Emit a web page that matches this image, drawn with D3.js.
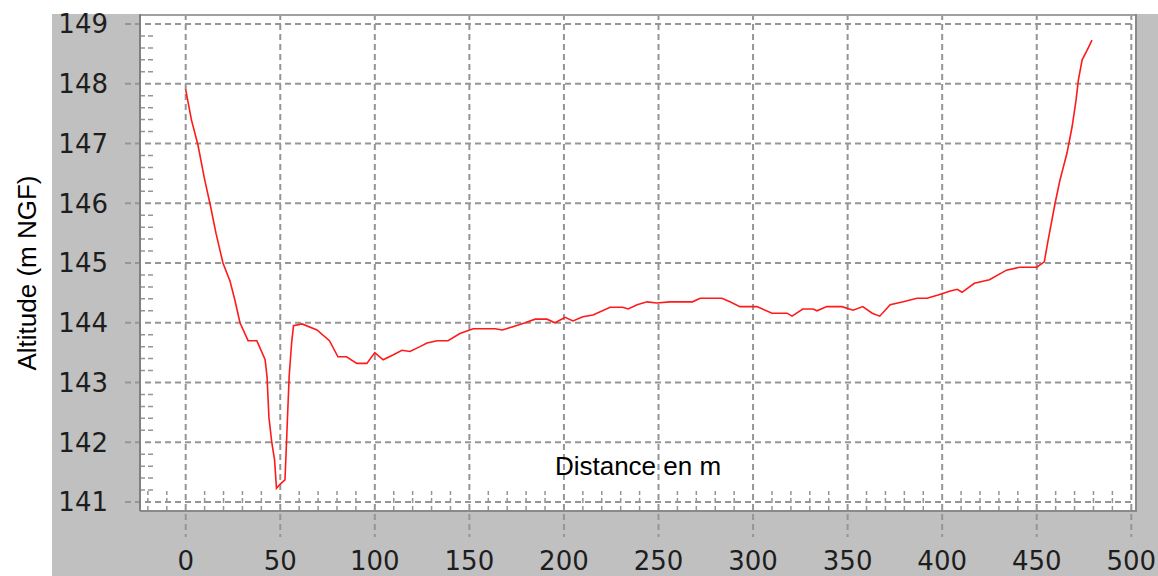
<!DOCTYPE html>
<html>
<head>
<meta charset="utf-8">
<script src="https://cdn.jsdelivr.net/npm/d3@7"></script>
<style>
html,body{margin:0;padding:0;background:#fff;}
svg{display:block;}
</style>
</head>
<body>
<svg id="chart" width="1158" height="576"></svg>
<script>
const distances = [0,3,6.5,10,13,16,19.7,23.4,26,28.7,33,37.6,39,42,43,44,45.5,47,48,50,52.5,53.5,54.7,56,57,61.5,69.4,76,80.5,85,90.5,95.8,100,104.4,109.6,114.3,118.6,123.9,127.6,133,138.7,145,152,163.6,167.4,172.6,179.5,184.8,191,195.3,200.6,204.8,210,215.4,224.4,231,234,238.7,244,249,256,268,272,283.5,287.8,293,302,310,318,320.6,326.3,331.8,333.8,339,347,352.9,358,363,367,372.5,379.4,386.7,392,397.4,404.3,408,410.5,417,425,434,441,450,454,456,459.7,462.3,466,468.7,470.8,472,474,476.6,479.2];
const altitudes = [147.9,147.4,146.97,146.4,145.97,145.5,145.0,144.7,144.38,144.0,143.7,143.7,143.6,143.38,143.1,142.42,142.0,141.7,141.23,141.3,141.37,142.15,143.1,143.66,143.95,143.98,143.88,143.7,143.43,143.43,143.32,143.32,143.5,143.38,143.46,143.54,143.52,143.6,143.66,143.7,143.7,143.82,143.9,143.9,143.88,143.93,144.0,144.06,144.06,144.0,144.09,144.03,144.1,144.13,144.26,144.26,144.23,144.3,144.35,144.33,144.35,144.35,144.41,144.41,144.35,144.27,144.27,144.16,144.16,144.11,144.23,144.23,144.2,144.27,144.27,144.21,144.27,144.16,144.11,144.3,144.35,144.41,144.41,144.46,144.53,144.56,144.51,144.66,144.72,144.88,144.93,144.93,145.02,145.38,146.0,146.39,146.84,147.28,147.73,148.06,148.4,148.56,148.73];
const xTicks = [0,50,100,150,200,250,300,350,400,450,500];
const yTicks = [141,142,143,144,145,146,147,148,149];
const xLabel = "Distance en m";
const yLabel = "Altitude (m NGF)";

const svg = d3.select("#chart");
const x = d3.scaleLinear().domain([0,500]).range([185.7,1131.3]);
const y = d3.scaleLinear().domain([141,149]).range([502,24]);
const plot = {left:140, right:1136, top:14, bottom:511};
const gridColor = "#959595";

// backgrounds
svg.append("rect").attr("x",52).attr("y",14).attr("width",1158-52).attr("height",576-14).attr("fill","#c0c0c0");
svg.append("rect").attr("x",plot.left).attr("y",plot.top).attr("width",plot.right-plot.left).attr("height",plot.bottom-plot.top).attr("fill","#fff");

// minor ticks
const yMinor = d3.range(141,149.001,0.2).filter(v=>Math.abs(v-Math.round(v))>0.01);
svg.append("g").selectAll("line").data(yMinor).join("line")
  .attr("x1",plot.left).attr("x2",plot.left+15)
  .attr("y1",d=>y(d)).attr("y2",d=>y(d))
  .attr("stroke",gridColor).attr("stroke-width",1.5).attr("stroke-dasharray","5,3");
const xMinor = d3.range(-20,511,10).filter(v=>v%50!==0 && x(v)>plot.left+2 && x(v)<plot.right-2);
svg.append("g").selectAll("line").data(xMinor).join("line")
  .attr("x1",d=>x(d)).attr("x2",d=>x(d))
  .attr("y1",plot.bottom).attr("y2",plot.bottom-20)
  .attr("stroke",gridColor).attr("stroke-width",1.5).attr("stroke-dasharray","5,3");

// grid lines
svg.append("g").selectAll("line").data(yTicks).join("line")
  .attr("x1",125).attr("x2",plot.right)
  .attr("y1",d=>y(d)).attr("y2",d=>y(d))
  .attr("stroke",gridColor).attr("stroke-width",2).attr("stroke-dasharray","6,4");
svg.append("g").selectAll("line").data(xTicks).join("line")
  .attr("x1",d=>x(d)).attr("x2",d=>x(d))
  .attr("y1",plot.top).attr("y2",537)
  .attr("stroke",gridColor).attr("stroke-width",2).attr("stroke-dasharray","6,4");

// plot border
svg.append("line").attr("x1",plot.left).attr("x2",plot.right).attr("y1",plot.top+1).attr("y2",plot.top+1).attr("stroke","#a0a0a0").attr("stroke-width",2);
svg.append("line").attr("x1",plot.left).attr("x2",plot.right).attr("y1",plot.bottom).attr("y2",plot.bottom).attr("stroke","#8a8a8a").attr("stroke-width",2);
svg.append("line").attr("x1",plot.left).attr("x2",plot.left).attr("y1",plot.top).attr("y2",plot.bottom).attr("stroke","#808080").attr("stroke-width",2);
svg.append("line").attr("x1",plot.right).attr("x2",plot.right).attr("y1",plot.top).attr("y2",plot.bottom+1).attr("stroke","#8a8a8a").attr("stroke-width",2);

// data line
const pts = distances.map((d,i)=>[d,altitudes[i]]);
svg.append("path").datum(pts)
  .attr("d",d3.line().x(d=>x(d[0])).y(d=>y(d[1])))
  .attr("fill","none").attr("stroke","#ff1a1a").attr("stroke-width",1.6);

// tick labels
svg.append("g").selectAll("text").data(yTicks).join("text")
  .attr("x",108).attr("y",d=>y(d)).attr("dy","0.36em")
  .attr("text-anchor","end")
  .attr("font-family","DejaVu Sans").attr("font-size",26).attr("fill","#1e1e1e")
  .text(d=>d);
svg.append("g").selectAll("text").data(xTicks).join("text")
  .attr("x",d=>x(d)).attr("y",570)
  .attr("text-anchor","middle")
  .attr("font-family","DejaVu Sans").attr("font-size",26).attr("fill","#1e1e1e")
  .text(d=>d);

// axis titles
svg.append("text").attr("x",638).attr("y",475).attr("text-anchor","middle")
  .attr("font-family","Liberation Sans, Arial").attr("font-size",26).attr("fill","#000")
  .text(xLabel);
svg.append("text").attr("transform","translate(36,273) rotate(-90)").attr("text-anchor","middle")
  .attr("font-family","Liberation Sans, Arial").attr("font-size",26).attr("fill","#000")
  .text(yLabel);
</script>
</body>
</html>
